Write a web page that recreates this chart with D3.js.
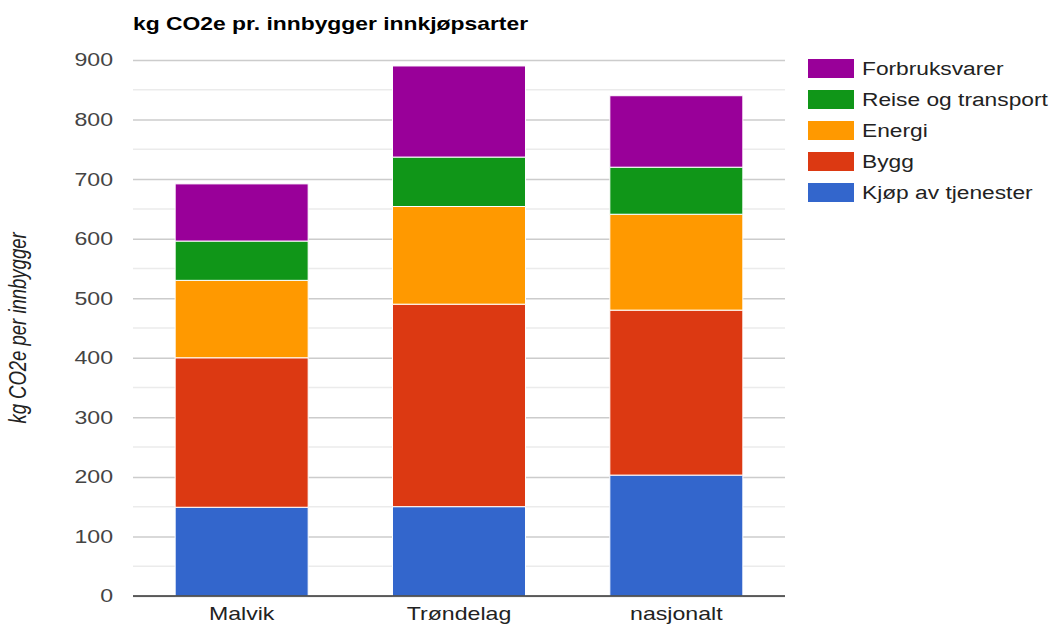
<!DOCTYPE html>
<html>
<head>
<meta charset="utf-8">
<script src="https://cdn.jsdelivr.net/npm/d3@7"></script>
<style>
  body { margin: 0; background: #fff; }
  svg { display: block; font-family: Arial, "Liberation Sans", sans-serif; }
</style>
</head>
<body>
<svg id="chart"></svg>
<script>
// data
let categories = ["Malvik", "Trøndelag", "nasjonalt"];
let seriesNames = ["Kjøp av tjenester", "Bygg", "Energi", "Reise og transport", "Forbruksvarer"];
let kjop = [149, 150, 203];
let bygg = [251, 340, 277];
let energi = [130, 164, 161];
let reise = [66, 83, 79];
let forbruk = [96, 153, 120];
let yTicks = [0, 100, 200, 300, 400, 500, 600, 700, 800, 900];
let minorTicks = [50, 150, 250, 350, 450, 550, 650, 750, 850];
let colors = ["#3366cc", "#dc3912", "#ff9900", "#109618", "#990099"];

/***************************/

// the reference is stretched sideways, so draw in a narrower box and stretch it
let W = 1053, H = 626;
let sx = 1.25;
let vw = W / sx;

let svg = d3.select("#chart")
  .attr("width", W)
  .attr("height", H)
  .attr("viewBox", `0 0 ${vw} ${H}`)
  .attr("preserveAspectRatio", "none");

let plot = {left: 133 / sx, right: 785 / sx, top: 60, bottom: 596};

let rows = categories.map((c, i) => ({
  cat: c,
  "Kjøp av tjenester": kjop[i],
  "Bygg": bygg[i],
  "Energi": energi[i],
  "Reise og transport": reise[i],
  "Forbruksvarer": forbruk[i]
}));
let stacked = d3.stack().keys(seriesNames)(rows);

let xScale = d3.scaleBand()
  .domain(categories)
  .range([plot.left, plot.right])
  .paddingInner(0.388)
  .paddingOuter(0.194);

let yScale = d3.scaleLinear()
  .domain([0, 900])
  .range([plot.bottom, plot.top]);

let color = d3.scaleOrdinal().domain(seriesNames).range(colors);

// minor gridlines
svg.append("g")
  .selectAll("line")
  .data(minorTicks)
  .join("line")
  .attr("x1", plot.left).attr("x2", plot.right)
  .attr("y1", d => yScale(d)).attr("y2", d => yScale(d))
  .attr("stroke", "#ebebeb")
  .attr("stroke-width", 1.5);

// y axis with major gridlines
let yAxis = svg.append("g")
  .attr("transform", `translate(${plot.left},0)`)
  .call(d3.axisLeft(yScale).tickValues(yTicks).tickSize(-(plot.right - plot.left)).tickPadding(20 / sx));
yAxis.select(".domain").remove();
yAxis.selectAll(".tick line").attr("stroke", "#cccccc").attr("stroke-width", 1.5);
yAxis.selectAll(".tick text")
  .attr("fill", "#444")
  .attr("font-size", 18.5)
  .attr("font-family", "Arial, 'Liberation Sans', sans-serif");

// bars
svg.append("g")
  .selectAll("g")
  .data(stacked)
  .join("g")
  .attr("fill", d => color(d.key))
  .selectAll("rect")
  .data(d => d)
  .join("rect")
  .attr("x", d => xScale(d.data.cat))
  .attr("width", xScale.bandwidth())
  .attr("y", d => yScale(d[1]))
  .attr("height", d => yScale(d[0]) - yScale(d[1]))
  .attr("stroke", "#fff")
  .attr("stroke-width", 1)
  .attr("vector-effect", "non-scaling-stroke");

// baseline
svg.append("line")
  .attr("x1", plot.left).attr("x2", plot.right)
  .attr("y1", yScale(0)).attr("y2", yScale(0))
  .attr("stroke", "#333")
  .attr("stroke-width", 1.5);

// x axis labels
let xAxis = svg.append("g")
  .attr("transform", `translate(0,${plot.bottom})`)
  .call(d3.axisBottom(xScale).tickSize(0).tickPadding(0));
xAxis.select(".domain").remove();
xAxis.selectAll(".tick text")
  .attr("y", 24)
  .attr("dy", 0)
  .attr("fill", "#222")
  .attr("font-size", 18.5)
  .attr("font-family", "Arial, 'Liberation Sans', sans-serif");

// title
svg.append("text")
  .attr("x", 133 / sx)
  .attr("y", 30)
  .attr("font-size", 18.3)
  .attr("font-weight", "bold")
  .attr("fill", "#000")
  .text("kg CO2e pr. innbygger innkjøpsarter");

// y axis title
svg.append("text")
  .attr("transform", `translate(${26 / sx},${328}) rotate(-90)`)
  .attr("text-anchor", "middle")
  .attr("font-size", 18.5)
  .attr("font-style", "italic")
  .attr("fill", "#222")
  .text("kg CO2e per innbygger");

// legend
let legend = svg.append("g")
  .selectAll("g")
  .data(seriesNames.slice().reverse())
  .join("g")
  .attr("transform", (d, i) => `translate(${808 / sx},${59 + i * 31})`);
legend.append("rect")
  .attr("width", 46 / sx)
  .attr("height", 19)
  .attr("fill", d => color(d));
legend.append("text")
  .attr("x", 54 / sx)
  .attr("y", 16)
  .attr("font-size", 18.2)
  .attr("fill", "#222")
  .text(d => d);
</script>
</body>
</html>
